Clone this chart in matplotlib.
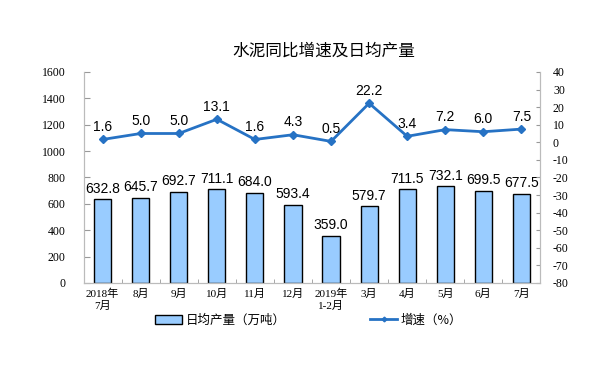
import matplotlib.pyplot as plt
import numpy as np

plt.rcParams['font.family'] = ['Liberation Sans', 'Noto Sans CJK SC', 'DejaVu Sans']

# ==========================================================
# Data
# ==========================================================

months = ["2018年\n7月", "8月", "9月", "10月", "11月", "12月",
          "2019年\n1-2月", "3月", "4月", "5月", "6月", "7月"]

output = [632.8, 645.7, 692.7, 711.1, 684.0, 593.4,
          359.0, 579.7, 711.5, 732.1, 699.5, 677.5]

growth = [1.6, 5.0, 5.0, 13.1, 1.6, 4.3,
          0.5, 22.2, 3.4, 7.2, 6.0, 7.5]

# ==========================================================
# Figure
# ==========================================================

fig = plt.figure(figsize=(6.1, 3.87), dpi=100)
ax = fig.add_axes([0.137, 0.269, 0.749, 0.545])
ax2 = ax.twinx()

x = np.arange(len(months))

bars = ax.bar(x, output, width=0.45, color="#99CCFF", edgecolor="black",
              linewidth=1.0, zorder=2)

for xi, v in zip(x, output):
    ax.text(xi, v + 25, f"{v:.1f}", ha="center", va="bottom", fontsize=10)

line, = ax2.plot(x, growth, color="#2672C4", linewidth=2, marker="D",
                 markersize=4, zorder=3)

for xi, v in zip(x, growth):
    ax2.text(xi, v + 3, f"{v:.1f}", ha="center", va="bottom", fontsize=10)

# ==========================================================
# Axes styling
# ==========================================================

ax.set_xlim(-0.5, len(months) - 0.5)
ax.set_ylim(0, 1600)
ax.set_yticks(range(0, 1601, 200))
ax2.set_ylim(-80, 40)
ax2.set_yticks(range(-80, 41, 10))

tick_font = {"family": "Liberation Serif", "size": 8.5}
ax.set_yticklabels([str(v) for v in range(0, 1601, 200)], fontdict=tick_font)
ax2.set_yticklabels([str(v) for v in range(-80, 41, 10)], fontdict=tick_font)

ax.set_xticks(x)
ax.set_xticklabels(months, fontsize=8,
                   family=["Liberation Serif", "Noto Sans CJK SC"])
ax.set_xticks(np.arange(-0.5, len(months), 1), minor=True)
ax.tick_params(axis="x", which="major", length=0, pad=4)
ax.tick_params(axis="x", which="minor", length=3, direction="in", color="#999999")
ax.tick_params(axis="y", length=4, direction="in", color="#999999", pad=13)
ax2.tick_params(axis="y", length=3, direction="in", color="#999999", pad=9)

for a in (ax, ax2):
    a.spines["top"].set_visible(False)
    for s in ("left", "right", "bottom"):
        a.spines[s].set_color("#BBBBBB")

fig.text(0.531, 0.868, "水泥同比增速及日均产量", fontsize=12,
         ha="center", va="center", family=["Noto Sans CJK SC"])

fig.legend([bars, line], ["日均产量（万吨）", "增速（%）"],
           loc="center", bbox_to_anchor=(0.506, 0.173), ncol=2,
           frameon=False, columnspacing=6.8, handlelength=2.1,
           handletextpad=0.3, markerscale=0.6,
           prop={"family": ["Noto Sans CJK SC"], "size": 9})

fig.savefig("out.png", dpi=100)
